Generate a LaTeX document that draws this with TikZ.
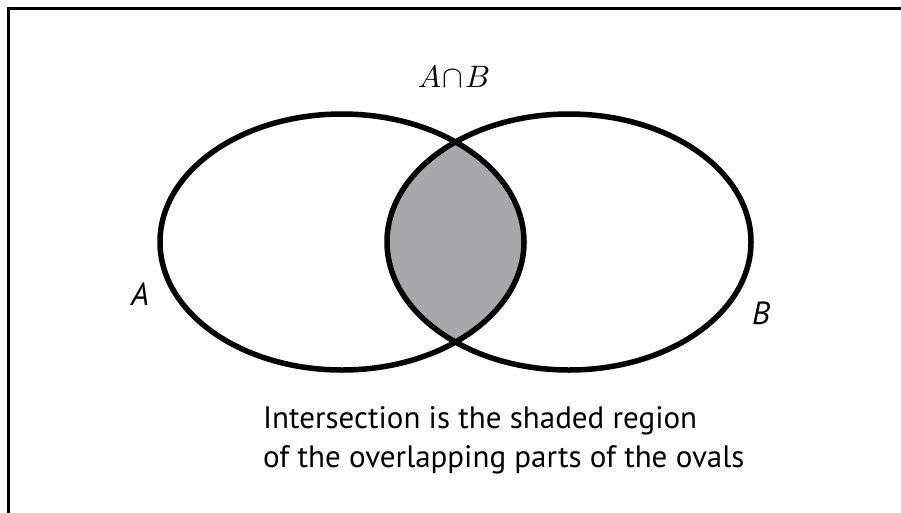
\documentclass[tikz,border=0pt]{standalone}
\usepackage{fontspec}
\setsansfont{PT Sans}
\begin{document}
\begin{tikzpicture}[x=1pt,y=-1pt,
  oval/.style={line width=5.5pt, draw=black},
  frameline/.style={line width=3pt, draw=black},
  caption/.style={font=\sffamily\fontsize{31}{39}\selectfont, anchor=base west, inner sep=0pt},
  setlabel/.style={font=\sffamily\itshape\fontsize{32}{38}\selectfont, inner sep=0pt}
]
\definecolor{interfill}{RGB}{167,168,171}
\useasboundingbox (0,0) rectangle (901,512);
\fill[white] (0,0) rectangle (901,512);
% frame (top and left edges)
\coordinate (fbl) at (8.5,515);
\coordinate (ftl) at (8.5,8.5);
\coordinate (ftr) at (905,8.5);
\draw[frameline] (fbl) -- (ftl) -- (ftr);
% centres
\coordinate (ca) at (342,242);
\coordinate (cb) at (569,242);
% shaded intersection
\begin{scope}
  \clip (ca) ellipse [x radius=182, y radius=128];
  \fill[interfill] (cb) ellipse [x radius=182, y radius=128];
\end{scope}
\draw[oval] (ca) ellipse [x radius=182, y radius=128];
\draw[oval] (cb) ellipse [x radius=182, y radius=128];
% labels
\node[inner sep=0pt] (ab) at (454,77) {\scalebox{3.1}{$A\!\cap\! B$}};
\node[setlabel] (la) at (140,294) {A};
\node[setlabel] (lb) at (761,313) {B};
\node[caption] (cap1) at (263,428) {Intersection is the shaded region};
\node[caption] (cap2) at (263,467) {of the overlapping parts of the ovals};
\end{tikzpicture}
\end{document}
